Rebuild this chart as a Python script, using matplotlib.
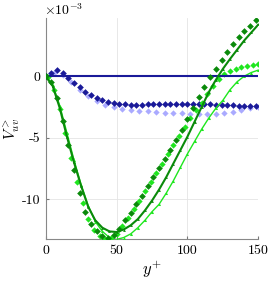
import matplotlib
matplotlib.use("Agg")
import numpy as np
import matplotlib.pyplot as plt

plt.rcParams['mathtext.fontset'] = 'cm'
plt.rcParams['font.family'] = ['cmr10', 'DejaVu Serif']
plt.rcParams['axes.unicode_minus'] = False

# values in units of 1e-3
yp_line = np.arange(0, 151, 5)
yp_diam = np.arange(0, 149, 4)
yp_diam2 = np.arange(2, 151, 4)
yp_light = np.arange(0, 151, 6)

blue_line = np.zeros(len(yp_line))

blue_diam = [0.0, 0.3, 0.5, 0.3, -0.15, -0.55, -0.9, -1.25, -1.55, -1.8,
             -1.95, -2.08, -2.17, -2.23, -2.27, -2.3, -2.3, -2.3, -2.29, -2.28,
             -2.27, -2.26, -2.25, -2.24, -2.24, -2.23, -2.23, -2.24, -2.26, -2.28,
             -2.3, -2.32, -2.34, -2.36, -2.38, -2.4, -2.42, -2.44]

blue_light = [0.0, 0.3, 0.1, -0.5, -1.1, -1.6, -2.0, -2.3, -2.5, -2.65,
              -2.75, -2.8, -2.85, -2.9, -2.95, -2.98, -3.0, -3.05, -3.08, -3.1,
              -3.08, -3.0, -2.88, -2.75, -2.62, -2.5]

green_line = [0.0, -0.8, -2.6, -4.9, -7.0, -8.9, -10.6, -11.7, -12.3, -12.6,
              -12.65, -12.45, -12.1, -11.6, -10.9, -10.1, -9.2, -8.2, -7.1, -6.0,
              -4.9, -3.7, -2.5, -1.3, -0.3, 0.6, 1.4, 2.15, 2.9, 3.55, 4.2]

green_diam = [0.0, -0.5, -1.8, -3.6, -5.6, -7.6, -9.5, -11.0, -12.0, -12.6,
              -13.0, -13.1, -12.9, -12.4, -11.7, -11.1, -10.4, -9.7, -8.95, -8.2,
              -7.45, -6.7, -5.95, -5.2, -4.35, -3.5, -2.6, -1.7, -0.85, -0.1,
              0.6, 1.3, 1.95, 2.6, 3.15, 3.65, 4.1, 4.55]

lime_diam = [-0.1, -1.1, -2.7, -4.6, -6.6, -8.6, -10.3, -11.6, -12.5, -13.0,
             -13.2, -13.15, -12.8, -12.2, -11.5, -10.8, -10.1, -9.35, -8.6, -7.85,
             -7.1, -6.35, -5.6, -4.85, -4.1, -3.4, -2.75, -2.15, -1.45, -0.8,
             -0.2, 0.2, 0.45, 0.62, 0.75, 0.85, 0.93, 1.0]

lime_line = [0.0, -0.7, -2.4, -4.6, -6.8, -8.8, -10.5, -11.8, -12.6, -13.1,
             -13.25, -13.1, -12.8, -12.3, -11.7, -11.0, -10.4, -9.5, -8.5, -7.4,
             -6.3, -5.3, -4.3, -3.4, -2.6, -1.95, -1.1, -0.45, 0.0, 0.3, 0.5]

navy = '#1a1a99'
light = '#aaaaff'
dgreen = '#0a8a0a'
lime = '#1fe61f'

fig = plt.figure(figsize=(2.7, 2.82), dpi=100)
ax = fig.add_axes([0.169, 0.151, 0.788, 0.784])

ax.plot(yp_light, blue_light, 'D', color=light, ms=3.2, mew=0, zorder=2)
ax.plot(yp_diam, blue_diam, 'D', color=navy, ms=3.4, mew=0, zorder=3)
ax.plot(yp_line, blue_line, '-', color=navy, lw=1.5, zorder=4)

ax.plot(yp_line, lime_line, '-', color=lime, lw=1.0, marker='^', ms=2.2, mew=0, zorder=3)
ax.plot(yp_diam2, lime_diam, 'D', color=lime, ms=3.2, mew=0, zorder=3)
ax.plot(yp_diam, green_diam, 'D', color=dgreen, ms=3.4, mew=0, zorder=4)
ax.plot(yp_line, green_line, '-', color=dgreen, lw=1.5, marker='^', ms=2.0, mew=0, zorder=5)

ax.set_xlim(0, 150)
ax.set_ylim(-13.25, 4.7)
ax.set_xticks([0, 50, 100, 150])
ax.set_xticklabels(['0', '50', '100', '150'])
ax.set_yticks([-10, -5, 0])
ax.set_yticklabels(['-10', '-5', '0'])
ax.tick_params(labelsize=10, direction='in', length=2.5, color='#777777', pad=4)

ax.grid(True, color='#e4e4e4', lw=0.6)
ax.set_axisbelow(True)
for s in ['top', 'right']:
    ax.spines[s].set_visible(False)
for s in ['left', 'bottom']:
    ax.spines[s].set_color('#888888')
    ax.spines[s].set_linewidth(0.8)

ax.set_xlabel(r'$y^{+}$', fontsize=12, labelpad=1)
ax.set_ylabel(r'$V^{>}_{uv}$', fontsize=11, labelpad=0)
fig.text(0.163, 0.937, r'$\times10^{-3}$', fontsize=10, ha='left', va='bottom')

fig.savefig('out.png', dpi=100)
